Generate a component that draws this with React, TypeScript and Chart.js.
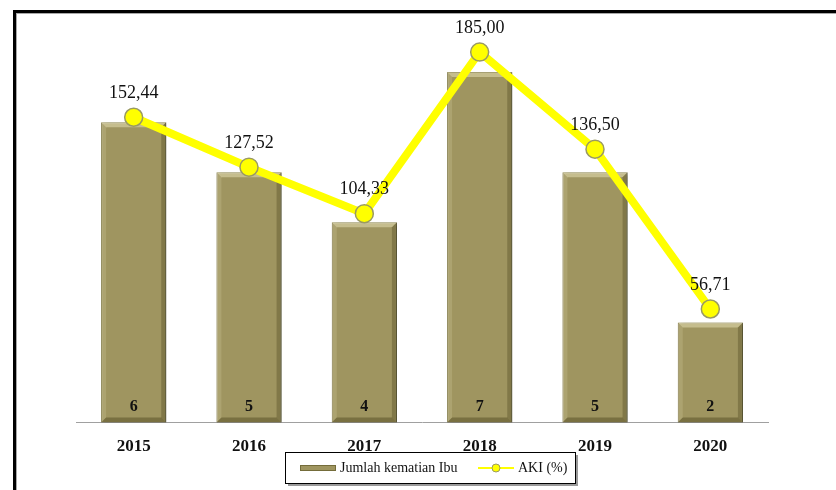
import React, { useEffect, useRef } from "react";
import { Chart, registerables } from "chart.js";
Chart.register(...registerables);

const categories = ["2015", "2016", "2017", "2018", "2019", "2020"];
const deaths = [6, 5, 4, 7, 5, 2];
const aki = [152.44, 127.52, 104.33, 185.0, 136.5, 56.71];
const seriesNames = ["Jumlah kematian Ibu", "AKI (%)"];

const BAR_COLOR = "#9F9560";
const BAR_BORDER = "#746C3A";
const LINE_COLOR = "#FFFF00";
const POINT_BORDER = "#9A9A62";
const SERIF = "'Liberation Serif', 'DejaVu Serif', serif";

const fmt = (v: number) => v.toFixed(2).replace(".", ",");

const framePlugin = {
  id: "frame",
  beforeDraw(chart: any) {
    const ctx = chart.ctx;
    ctx.save();
    ctx.fillStyle = "#ffffff";
    ctx.fillRect(0, 0, chart.width, chart.height);
    ctx.fillStyle = "#000000";
    ctx.fillRect(13, 10, chart.width - 13, 3);
    ctx.fillRect(13, 10, 3, chart.height - 10);
    ctx.fillStyle = "#a8a8a8";
    ctx.fillRect(16, 13, chart.width - 16, 1);
    ctx.fillRect(16, 13, 1, chart.height - 13);
    ctx.restore();
  },
};

const barStylePlugin = {
  id: "barStyle",
  beforeDatasetDraw(chart: any, args: any) {
    if (chart.data.datasets[args.index].type !== "bar") return;
    const ctx = chart.ctx;
    ctx.save();
    ctx.shadowColor = "rgba(0,0,0,0.3)";
    ctx.shadowOffsetX = 3;
    ctx.shadowOffsetY = 1;
    ctx.shadowBlur = 4;
  },
  afterDatasetDraw(chart: any, args: any) {
    if (chart.data.datasets[args.index].type !== "bar") return;
    const ctx = chart.ctx;
    ctx.restore();
    const meta = chart.getDatasetMeta(args.index);
    ctx.save();
    meta.data.forEach((el: any, i: number) => {
      const { x, y, base, width } = el.getProps(["x", "y", "base", "width"], true);
      const l = x - width / 2;
      const r = x + width / 2;
      const t = y;
      const b = base;
      const s = 5;
      const poly = (pts: number[][], color: string) => {
        ctx.beginPath();
        ctx.moveTo(pts[0][0], pts[0][1]);
        for (let k = 1; k < pts.length; k++) ctx.lineTo(pts[k][0], pts[k][1]);
        ctx.closePath();
        ctx.fillStyle = color;
        ctx.fill();
      };
      poly([[l, t], [r, t], [r - s, t + s], [l + s, t + s]], "rgba(255,250,210,0.4)");
      poly([[l, t], [l + s, t + s], [l + s, b - s], [l, b]], "rgba(255,250,210,0.14)");
      poly([[r, t], [r, b], [r - s, b - s], [r - s, t + s]], "rgba(40,35,0,0.25)");
      poly([[l, b], [l + s, b - s], [r - s, b - s], [r, b]], "rgba(40,35,0,0.32)");
      ctx.fillStyle = "#111111";
      ctx.font = `bold 16px ${SERIF}`;
      ctx.textAlign = "center";
      ctx.textBaseline = "middle";
      ctx.fillText(String(deaths[i]), x, b - 16);
    });
    ctx.restore();
  },
};

const labelPlugin = {
  id: "lineLabels",
  afterDatasetsDraw(chart: any) {
    const ctx = chart.ctx;
    const idx = chart.data.datasets.findIndex((d: any) => d.type === "line");
    const meta = chart.getDatasetMeta(idx);
    ctx.save();
    ctx.fillStyle = "#111111";
    ctx.font = `18px ${SERIF}`;
    ctx.textAlign = "center";
    ctx.textBaseline = "middle";
    meta.data.forEach((pt: any, i: number) => {
      ctx.fillText(fmt(aki[i]), pt.x, pt.y - 24);
    });
    ctx.restore();
  },
};

const legendPlugin = {
  id: "customLegend",
  afterDraw(chart: any) {
    const ctx = chart.ctx;
    const bx = 285, by = 452, bw = 290, bh = 31;
    ctx.save();
    ctx.fillStyle = "#9a9a9a";
    ctx.fillRect(bx + 3, by + 3, bw, bh);
    ctx.fillStyle = "#ffffff";
    ctx.fillRect(bx, by, bw, bh);
    ctx.strokeStyle = "#000000";
    ctx.lineWidth = 1;
    ctx.strokeRect(bx + 0.5, by + 0.5, bw, bh);
    const cy = by + 16;
    ctx.fillStyle = BAR_COLOR;
    ctx.fillRect(300, cy - 3, 36, 6);
    ctx.strokeStyle = BAR_BORDER;
    ctx.strokeRect(300.5, cy - 2.5, 35, 5);
    ctx.fillStyle = "#111111";
    ctx.font = `14px ${SERIF}`;
    ctx.textAlign = "left";
    ctx.textBaseline = "middle";
    ctx.fillText(chart.data.datasets[0].label, 340, cy);
    ctx.strokeStyle = LINE_COLOR;
    ctx.lineWidth = 2;
    ctx.beginPath();
    ctx.moveTo(478, cy);
    ctx.lineTo(514, cy);
    ctx.stroke();
    ctx.beginPath();
    ctx.arc(496, cy, 4, 0, Math.PI * 2);
    ctx.fillStyle = LINE_COLOR;
    ctx.fill();
    ctx.lineWidth = 1;
    ctx.strokeStyle = POINT_BORDER;
    ctx.stroke();
    ctx.fillStyle = "#111111";
    ctx.fillText(chart.data.datasets[1].label, 518, cy);
    ctx.restore();
  },
};

export default function App() {
  const ref = useRef<HTMLCanvasElement | null>(null);
  useEffect(() => {
    if (!ref.current) return;
    const chart = new Chart(ref.current, {
      type: "bar",
      data: {
        labels: categories,
        datasets: [
          {
            type: "bar",
            label: seriesNames[0],
            data: deaths,
            yAxisID: "y",
            backgroundColor: BAR_COLOR,
            borderColor: BAR_BORDER,
            borderWidth: 1,
            categoryPercentage: 1,
            barPercentage: 0.565,
            order: 2,
          } as any,
          {
            type: "line",
            label: seriesNames[1],
            data: aki,
            yAxisID: "y1",
            borderColor: LINE_COLOR,
            borderWidth: 8,
            tension: 0,
            pointRadius: 9,
            pointBackgroundColor: LINE_COLOR,
            pointBorderColor: POINT_BORDER,
            pointBorderWidth: 1.5,
            order: 1,
          } as any,
        ],
      },
      options: {
        responsive: false,
        animation: false,
        devicePixelRatio: 1,
        layout: { padding: { left: 76, right: 68, top: 22, bottom: 19 } },
        plugins: { legend: { display: false }, tooltip: { enabled: false } },
        scales: {
          x: {
            grid: { display: false, drawTicks: false },
            border: { display: true, color: "#a0a0a0", width: 1 },
            ticks: {
              color: "#111111",
              padding: 14,
              font: { family: SERIF, size: 17, weight: "bold" },
            },
          },
          y: { display: false, min: 0, max: 8 },
          y1: { display: false, min: 0, max: 200 },
        },
      },
      plugins: [framePlugin, barStylePlugin, labelPlugin, legendPlugin],
    });
    return () => chart.destroy();
  }, []);
  return (
    <div style={{ position: "absolute", left: 0, top: 0, width: 836, height: 490 }}>
      <canvas ref={ref} width={836} height={490} style={{ display: "block" }} />
    </div>
  );
}
